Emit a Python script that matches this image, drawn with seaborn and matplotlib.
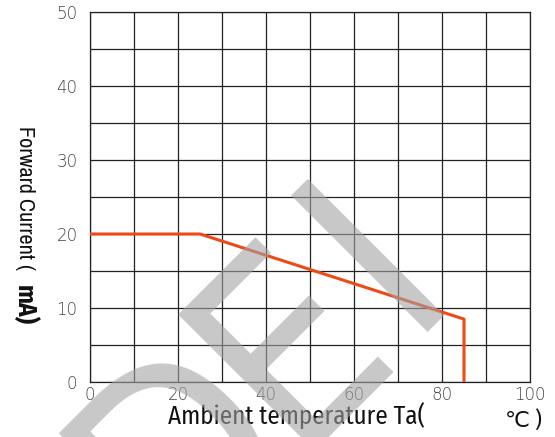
import matplotlib
matplotlib.use("Agg")
import matplotlib.pyplot as plt
import seaborn as sns
import numpy as np

# Data
temp = [0, 25, 85, 85]
current = [20, 20, 8.5, 0]
xticks = [0, 20, 40, 60, 80, 100]
yticks = [0, 10, 20, 30, 40, 50]

sns.set_style("white")
plt.rcParams['font.family'] = ['DejaVu Sans']

W, H = 555, 437
fig = plt.figure(figsize=(W/100, H/100), dpi=100)
ax = fig.add_axes([90/W, 1-382/H, 440/W, 370/H])

sns.lineplot(x=temp, y=current, sort=False, estimator=None, ax=ax,
             color='#EE4A18', linewidth=2.2, zorder=3)

ax.set_xlim(0, 100)
ax.set_ylim(0, 50)
ax.set_xticks(np.arange(0, 101, 10))
ax.set_yticks(np.arange(0, 51, 5))
ax.set_xticklabels([str(v) if v in xticks else '' for v in range(0, 101, 10)],
                   fontweight=200)
ax.set_yticklabels([str(v) if v in yticks else '' for v in range(0, 51, 5)],
                   fontweight=200)
ax.grid(True, color='#222222', linewidth=0.9)
ax.tick_params(length=0, labelsize=12, labelcolor='#444444')
ax.tick_params(axis='y', pad=9)
ax.tick_params(axis='x', pad=3)
for s in ax.spines.values():
    s.set_color('#222222')
    s.set_linewidth(0.9)

narrow = ['Archivo Narrow', 'DejaVu Sans']
cond = ['Fira Sans Condensed', 'DejaVu Sans']
fig.text(25/W, 1-270/H, 'Forward Current (', rotation=270, ha='center', va='bottom',
         fontsize=16, family=narrow, color='#111111')
fig.text(25/W, 1-285/H, 'mA)', rotation=270, ha='center', va='top',
         fontsize=18, family=cond, fontweight='bold', color='#111111')
fig.text(168/W, 1-425/H, 'Ambient temperature Ta(', ha='left', va='baseline',
         fontsize=18, family=cond, color='#111111')
fig.text(505/W, 1-421/H, '℃ )', ha='left', va='center',
         fontsize=16, family=cond, color='#111111')

# watermark
wm = dict(rotation=45, rotation_mode='anchor', ha='center', va='baseline',
          fontsize=190, family='DejaVu Sans', fontstretch='condensed',
          color='#a3a3a3', alpha=0.6, zorder=10)
fig.text(236/W, 1-504/H, 'D', **wm)
fig.text(345/W, 1-398/H, 'E', **wm)
fig.text(429/W, 1-307/H, 'I', **wm)

fig.savefig('out.png', dpi=100)
